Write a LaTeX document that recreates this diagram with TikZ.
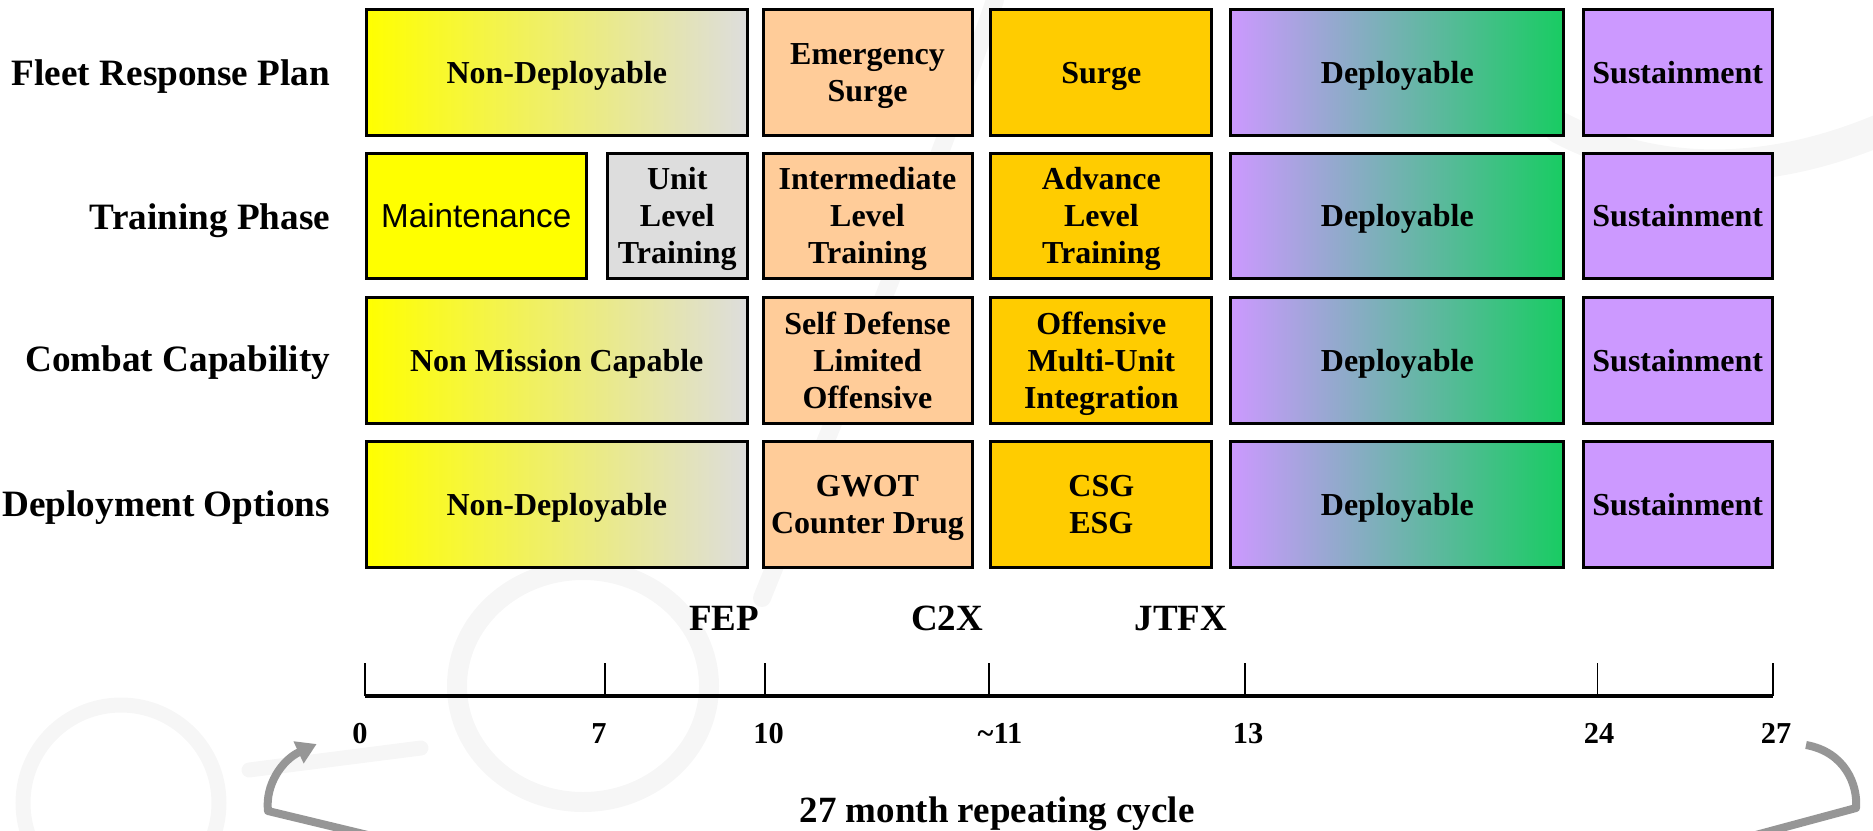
\documentclass[tikz,border=0pt]{standalone}
\usepackage{fontspec}
\setmainfont{Liberation Serif}
\newfontfamily\sansf{Liberation Sans}
\usetikzlibrary{arrows.meta}
\definecolor{ylw}{RGB}{255,255,0}
\definecolor{lgry}{RGB}{221,221,221}
\definecolor{peach}{RGB}{255,204,153}
\definecolor{gold}{RGB}{255,204,0}
\definecolor{lav}{RGB}{204,153,255}
\definecolor{grn}{RGB}{24,204,98}
\definecolor{midpg}{RGB}{156,168,210}
\definecolor{wm}{RGB}{246,246,246}
\definecolor{arr}{RGB}{150,150,150}
\begin{document}
\begin{tikzpicture}[x=0.5pt,y=-0.5pt,
  box/.style={draw=black, line width=1.5pt, inner sep=0pt, align=center,
    text depth=0pt, minimum height=62.8pt,
    font=\fontsize{16}{18.5}\selectfont\bfseries},
  nondep/.style={box, left color=ylw, right color=lgry},
  peachbox/.style={box, fill=peach},
  goldbox/.style={box, fill=gold},
  depbox/.style={box, left color=lav, middle color=midpg, right color=grn},
  susbox/.style={box, fill=lav, minimum width=94.25pt},
  colA/.style={minimum width=190.75pt},
  colB/.style={minimum width=104.5pt},
  colC/.style={minimum width=110.55pt},
  colD/.style={minimum width=166.55pt},
  rowlbl/.style={anchor=base east, inner sep=0pt, font=\fontsize{18.6}{22}\selectfont\bfseries},
  mile/.style={anchor=base, inner sep=0pt, font=\fontsize{18.5}{22}\selectfont\bfseries},
  num/.style={anchor=base, inner sep=0pt, font=\fontsize{15.2}{18}\selectfont\bfseries},
  axisline/.style={line width=1.6pt, black},
  tickline/.style={line width=0.9pt, black},
  cyclearrow/.style={draw=arr, line width=4pt, line join=round,
    -{Triangle[length=10pt,width=11.5pt]}},
  wmark/.style={draw=wm, line cap=round}
]
\useasboundingbox (0,0) rectangle (1873,830);

% faint watermark
\draw[wmark, line width=10pt] (583,686) ellipse [x radius=126, y radius=116];
\draw[wmark, line width=7.5pt] (121,803) circle [radius=98];
\draw[wmark, line width=7.5pt] (249,770) -- (421,748);
\draw[wmark, line width=9pt] (762,598) .. controls (850,380) and (930,190) .. (995,0);
\draw[wmark, line width=16pt] (1560,128) .. controls (1650,175) and (1760,180) .. (1880,130);

% row labels
\node[rowlbl] (l1) at (330.5,85) {Fleet Response Plan};
\node[rowlbl] (l2) at (330.5,229.3) {Training Phase};
\node[rowlbl] (l3) at (330.5,371.7) {Combat Capability};
\node[rowlbl] (l4) at (330.5,516.7) {Deployment Options};

% row 1
\node[nondep, colA] (a1) at (556.75,72.5) {Non-Deployable};
\node[peachbox, colB] (b1) at (867.5,72.5) {Emergency\\Surge};
\node[goldbox, colC] (c1) at (1101.35,72.5) {Surge};
\node[depbox, colD] (d1) at (1397.35,72.5) {Deployable};
\node[susbox] (e1) at (1677.75,72.5) {Sustainment};

% row 2
\node[box, fill=ylw, minimum width=110.25pt, font=\sansf\fontsize{16.6}{20}\selectfont] (a21) at (476.25,215.85) {Maintenance};
\node[box, fill=lgry, minimum width=70.25pt] (a22) at (677.25,215.85) {Unit\\Level\\Training};
\node[peachbox, colB] (b2) at (867.5,215.85) {Intermediate\\Level\\Training};
\node[goldbox, colC] (c2) at (1101.35,215.85) {Advance\\Level\\Training};
\node[depbox, colD] (d2) at (1397.35,215.85) {Deployable};
\node[susbox] (e2) at (1677.75,215.85) {Sustainment};

% row 3
\node[nondep, colA] (a3) at (556.75,360.35) {Non Mission Capable};
\node[peachbox, colB] (b3) at (867.5,360.35) {Self Defense\\Limited\\Offensive};
\node[goldbox, colC] (c3) at (1101.35,360.35) {Offensive\\Multi-Unit\\Integration};
\node[depbox, colD] (d3) at (1397.35,360.35) {Deployable};
\node[susbox] (e3) at (1677.75,360.35) {Sustainment};

% row 4
\node[nondep, colA] (a4) at (556.75,504.2) {Non-Deployable};
\node[peachbox, colB] (b4) at (867.5,504.2) {GWOT\\Counter Drug};
\node[goldbox, colC] (c4) at (1101.35,504.2) {CSG\\ESG};
\node[depbox, colD] (d4) at (1397.35,504.2) {Deployable};
\node[susbox] (e4) at (1677.75,504.2) {Sustainment};

% milestones
\node[mile] (fep) at (724,630) {FEP};
\node[mile] (c2x) at (947,630) {C2X};
\node[mile] (jtfx) at (1181,630) {JTFX};

% timeline axis
\coordinate (t0) at (364.8,696);
\coordinate (t7) at (604.6,696);
\coordinate (t10) at (765.3,696);
\coordinate (t11) at (989.3,696);
\coordinate (t13) at (1245,696);
\coordinate (t24) at (1597.4,696);
\coordinate (t27) at (1772.8,696);
\draw[axisline] (t0) -- (t27);
\foreach \t in {t0,t7,t10,t11,t13,t24,t27}
  \draw[tickline] (\t) -- ++(0,-33);

% month numbers
\node[num] (n0) at (360,743) {0};
\node[num] (n7) at (599,743) {7};
\node[num] (n10) at (768.5,743) {10};
\node[num] (n11) at (1000,743) {\char`\~11};
\node[num] (n13) at (1248,743) {13};
\node[num] (n24) at (1599,743) {24};
\node[num] (n27) at (1776,743) {27};

% cycle arrow
\coordinate (cycS) at (1806,745);
\coordinate (cycE) at (316.7,744);
\draw[cyclearrow] (cycS) .. controls (1845,752) and (1858,785) .. (1856,808)
  -- (1700,850) -- (430,850) -- (268,811)
  .. controls (265,785) and (282,760) .. (cycE);

\node[mile] (cyc) at (997,822) {27 month repeating cycle};
\end{tikzpicture}
\end{document}
